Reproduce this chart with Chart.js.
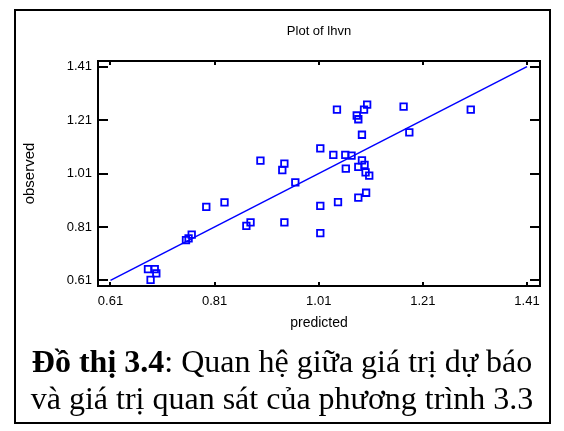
<!DOCTYPE html>
<html>
<head>
<meta charset="utf-8">
<script src="https://cdn.jsdelivr.net/npm/chart.js@4.4.1/dist/chart.umd.min.js"></script>
<style>
  html, body { margin: 0; padding: 0; background: #ffffff; }
  #wrap { position: relative; width: 564px; height: 431px; overflow: hidden; background: #fff; }
  #c { position: absolute; left: 0; top: 0; }
  #frame { position: absolute; left: 14px; top: 9px; width: 537px; height: 415px; box-sizing: border-box; border: 2px solid #000; pointer-events: none; }
  #caption { position: absolute; left: 0; top: 342.7px; width: 564px; text-align: center; font-family: "Liberation Serif", "Times New Roman", serif; font-size: 32px; line-height: 37px; color: #000; white-space: nowrap; }
</style>
</head>
<body>
<div id="wrap">
  <canvas id="c" width="564" height="340"></canvas>
  <div id="frame"></div>
  <div id="caption"><b>Đồ thị 3.4</b>: Quan hệ giữa giá trị dự báo<br>và giá trị quan sát của phương trình 3.3</div>
</div>
<script>
// ---- data ----
const predicted = [
  0.682, 0.695, 0.698, 0.687, 0.755, 0.760, 0.766, 0.794, 0.829, 0.871,
  0.879, 0.944, 0.940, 0.944, 0.898, 0.965, 1.013, 1.013, 1.013, 1.038,
  1.047, 1.061, 1.073, 1.062, 1.093, 1.086, 1.098, 1.100, 1.107, 1.101,
  1.086, 1.045, 1.103, 1.097, 1.083, 1.086, 1.173, 1.302, 1.093, 1.184
];
const observed = [
  0.652, 0.652, 0.636, 0.612, 0.761, 0.767, 0.781, 0.885, 0.902, 0.814,
  0.827, 0.827, 1.023, 1.047, 1.058, 0.977, 1.104, 0.889, 0.787, 1.080,
  0.903, 1.080, 1.077, 1.028, 1.059, 1.035, 1.042, 1.014, 1.002, 0.938,
  0.920, 1.249, 1.268, 1.249, 1.227, 1.213, 1.260, 1.249, 1.155, 1.164
];
const fitLineX = [0.61, 1.41];
const fitLineY = [0.61, 1.41];
const xTickValues = [0.61, 0.81, 1.01, 1.21, 1.41];
const xTickLabels = ["0.61", "0.81", "1.01", "1.21", "1.41"];
const yTickValues = [0.61, 0.81, 1.01, 1.21, 1.41];
const yTickLabels = ["0.61", "0.81", "1.01", "1.21", "1.41"];
const chartTitle = "Plot of lhvn";
const xTitle = "predicted";
const yTitle = "observed";

// ---- build ----
const scatterPoints = predicted.map((x, i) => ({ x: x, y: observed[i] }));
const linePoints = fitLineX.map((x, i) => ({ x: x, y: fitLineY[i] }));
const BLUE = '#0000ff';
const tickFont = { family: 'Arial, "Liberation Sans", sans-serif', size: 13 };
const xTitleFont = { family: 'Arial, "Liberation Sans", sans-serif', size: 14 };
const yTitleFont = { family: 'Arial, "Liberation Sans", sans-serif', size: 15 };

const frameTicks = {
  id: 'frameTicks',
  afterDatasetsDraw(chart) {
    const { ctx, chartArea: a, scales } = chart;
    ctx.save();
    ctx.strokeStyle = '#000';
    ctx.lineWidth = 2;
    ctx.beginPath();
    yTickValues.forEach(v => {
      const py = Math.round(scales.y.getPixelForValue(v));
      ctx.moveTo(a.left, py); ctx.lineTo(a.left + 10, py);
      ctx.moveTo(a.right - 10, py); ctx.lineTo(a.right, py);
    });
    xTickValues.forEach(v => {
      const px = Math.round(scales.x.getPixelForValue(v));
      ctx.moveTo(px, a.top); ctx.lineTo(px, a.top + 4);
      ctx.moveTo(px, a.bottom - 4); ctx.lineTo(px, a.bottom);
    });
    ctx.stroke();
    ctx.strokeRect(a.left, a.top, a.right - a.left, a.bottom - a.top);
    ctx.restore();
  }
};

new Chart(document.getElementById('c'), {
  type: 'scatter',
  data: {
    datasets: [
      {
        label: 'observed',
        data: scatterPoints,
        pointStyle: 'rect',
        pointRadius: 4.6,
        pointHoverRadius: 4.6,
        borderColor: BLUE,
        backgroundColor: 'rgba(0,0,0,0)',
        pointBorderWidth: 1.8,
        borderWidth: 1.8
      },
      {
        label: 'fit',
        data: linePoints,
        showLine: true,
        borderColor: BLUE,
        borderWidth: 1.5,
        pointRadius: 0,
        fill: false
      }
    ]
  },
  options: {
    responsive: false,
    animation: false,
    devicePixelRatio: 1,
    layout: { padding: { left: 0, right: 24, top: 0, bottom: 0 } },
    plugins: {
      legend: { display: false },
      tooltip: { enabled: false },
      title: {
        display: true,
        text: chartTitle,
        fullSize: false,
        color: '#000',
        font: { family: 'Arial, "Liberation Sans", sans-serif', size: 13, weight: 'normal' },
        padding: { top: 23.7, bottom: 21.7 }
      }
    },
    scales: {
      x: {
        type: 'linear',
        position: 'bottom',
        min: 0.586,
        max: 1.435,
        afterBuildTicks: s => { s.ticks = xTickValues.map(v => ({ value: v })); },
        afterFit: s => { s.height = 54; },
        ticks: {
          color: '#000',
          font: tickFont,
          padding: 8,
          maxRotation: 0,
          autoSkip: false,
          callback: (v, i) => xTickLabels[i]
        },
        grid: { display: false, drawTicks: false },
        border: { display: false },
        title: { display: true, text: xTitle, color: '#000', font: xTitleFont, padding: { top: 0, bottom: 8.4 } }
      },
      y: {
        type: 'linear',
        position: 'left',
        min: 0.589,
        max: 1.431,
        afterBuildTicks: s => { s.ticks = yTickValues.map(v => ({ value: v })); },
        afterFit: s => { s.width = 98; },
        ticks: {
          color: '#000',
          font: tickFont,
          padding: 6,
          autoSkip: false,
          callback: (v, i) => yTickLabels[i]
        },
        grid: { display: false, drawTicks: false },
        border: { display: false },
        title: { display: true, text: yTitle, color: '#000', font: yTitleFont, padding: { top: 21.3, bottom: 0 } }
      }
    }
  },
  plugins: [frameTicks]
});
</script>
</body>
</html>
